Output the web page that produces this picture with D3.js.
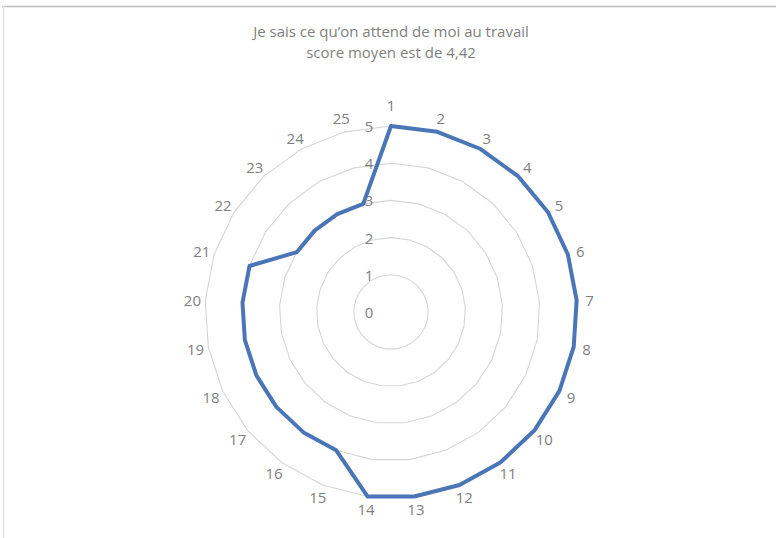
<!DOCTYPE html>
<html>
<head>
<meta charset="utf-8">
<script src="https://cdn.jsdelivr.net/npm/d3@7"></script>
<style>
  html, body { margin: 0; padding: 0; background: #fff; }
  svg { display: block; }
</style>
</head>
<body>
<svg id="chart" width="776" height="538"></svg>
<script>
// Questions 1..25 and their average score
const categories = d3.range(1, 26).map(String);
const scores = [5, 5, 5, 5, 5, 5, 5, 5, 5, 5, 5, 5, 5, 5,
                4, 4, 4, 4, 4, 4, 4,
                3, 3, 3, 3];
const radialTicks = [0, 1, 2, 3, 4, 5];
const titleLines = ["Je sais ce qu\u2019on attend de moi au travail", "score moyen est de 4,42"];

const W = 776, H = 538;
const cx = 391, cy = 312, R = 186;
const font = "'Open Sans', 'Liberation Sans', sans-serif";

const svg = d3.select("#chart");

// chart frame
svg.append("line").attr("x1", 2).attr("x2", W).attr("y1", 6.5).attr("y2", 6.5)
  .attr("stroke", "#bdbdbd").attr("stroke-width", 1.5);
svg.append("line").attr("x1", 3.5).attr("x2", 3.5).attr("y1", 6).attr("y2", H)
  .attr("stroke", "#e3e3e3").attr("stroke-width", 1.5);

// title
svg.append("g").selectAll("text").data(titleLines).join("text")
  .attr("x", cx).attr("y", (d, i) => 37 + i * 21)
  .attr("text-anchor", "middle")
  .attr("font-family", font).attr("font-size", 15)
  .attr("fill", "#7f7f7f")
  .text(d => d);

const angle = d3.scalePoint().domain(categories).range([0, 2 * Math.PI * (24 / 25)]);
const r = d3.scaleLinear().domain([0, 5]).range([0, R]);

const g = svg.append("g").attr("transform", `translate(${cx},${cy})`);

// polygonal grid rings
const ringLine = d3.lineRadial().curve(d3.curveLinearClosed);
g.append("g").selectAll("path").data(radialTicks.filter(t => t > 0)).join("path")
  .attr("d", t => ringLine(categories.map(c => [angle(c), r(t)])))
  .attr("fill", "none").attr("stroke", "#d6d6d6").attr("stroke-width", 1.1);

// radial axis tick labels
g.append("g").selectAll("text").data(radialTicks).join("text")
  .attr("x", -22).attr("y", t => -r(t))
  .attr("text-anchor", "middle").attr("dominant-baseline", "central")
  .attr("font-family", font).attr("font-size", 15)
  .attr("fill", "#7f7f7f")
  .text(t => t);

// category labels around the outside; the top one sits a little higher
const labelR = c => 199 + 8 * Math.pow(Math.max(0, Math.cos(angle(c))), 60);
g.append("g").selectAll("text").data(categories).join("text")
  .attr("x", c => labelR(c) * Math.sin(angle(c)))
  .attr("y", c => -labelR(c) * Math.cos(angle(c)))
  .attr("text-anchor", "middle").attr("dominant-baseline", "central")
  .attr("font-family", font).attr("font-size", 15)
  .attr("fill", "#7f7f7f")
  .text(c => c);

// data series
const seriesLine = d3.lineRadial()
  .angle((d, i) => angle(categories[i]))
  .radius(d => r(d))
  .curve(d3.curveLinearClosed);
g.append("path").datum(scores)
  .attr("d", seriesLine)
  .attr("fill", "none").attr("stroke", "#4a76b8")
  .attr("stroke-width", 4).attr("stroke-linejoin", "round");
</script>
</body>
</html>
